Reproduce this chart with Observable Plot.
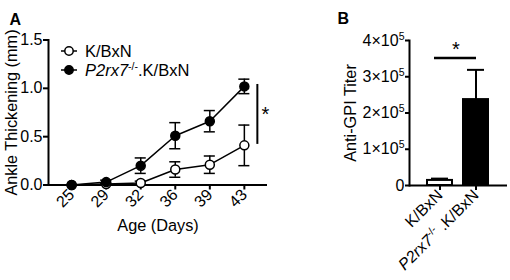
<!DOCTYPE html>
<html>
<head>
<meta charset="utf-8">
<script src="https://cdn.jsdelivr.net/npm/d3@7"></script>
<script src="https://cdn.jsdelivr.net/npm/@observablehq/plot@0.6"></script>
<style>
  html, body { margin: 0; padding: 0; background: white; }
  #wrap { position: relative; width: 510px; height: 280px; overflow: hidden; }
  #panelA { position: absolute; left: 0; top: 0; }
  #panelB { position: absolute; left: 290px; top: 0; }
</style>
</head>
<body>
<div id="wrap"><div id="panelA"></div><div id="panelB"></div></div>
<script>
// ---------- Data: panel A (ankle thickening) ----------
const days = [25, 29, 32, 36, 39, 43];
const kbxnMean = [0.00, 0.01, 0.02, 0.16, 0.21, 0.41];
const kbxnSem  = [0.00, 0.01, 0.02, 0.08, 0.09, 0.21];
const p2Mean   = [0.00, 0.03, 0.20, 0.51, 0.66, 1.02];
const p2Sem    = [0.00, 0.02, 0.08, 0.135, 0.11, 0.075];
const yTicksA  = [0, 0.5, 1.0, 1.5];
const seriesNames = ["K/BxN", "P2rx7-/-.K/BxN"];
const sigA = [{from: 0.42, to: 1.04, label: "*"}];

// ---------- Data: panel B (anti-GPI titer) ----------
const groupsB    = ["K/BxN", "P2rx7-/-.K/BxN"];
const titerMean  = [14000, 237000];
const titerSem   = [5000, 82000];
const yTicksB    = [0, 100000, 200000, 300000, 400000];
const sigB = [{y: 352000, label: "*"}];

const FONT = "'Liberation Sans', Arial, sans-serif";
const style = {fontFamily: FONT, fontSize: "16px", color: "black", background: "white", overflow: "visible"};

// ---------- Panel A ----------
const rowsK = days.map((d, i) => ({i, day: d, mean: kbxnMean[i], sem: kbxnSem[i]}));
const rowsP = days.map((d, i) => ({i, day: d, mean: p2Mean[i], sem: p2Sem[i]}));
const idx = days.map((d, i) => i);

function legendA() {
  const g = d3.create("svg:g").attr("text-anchor", "start");
  const rows = [{y: 51, fill: "white", name: seriesNames[0]}, {y: 70, fill: "black", name: seriesNames[1]}];
  for (const r of rows) {
    g.append("line").attr("x1", 61).attr("x2", 77).attr("y1", r.y).attr("y2", r.y)
      .attr("stroke", "black").attr("stroke-width", 1.5);
    g.append("circle").attr("cx", 69).attr("cy", r.y).attr("r", 4.2)
      .attr("fill", r.fill).attr("stroke", "black").attr("stroke-width", 1.5);
    const t = g.append("text").attr("x", 85).attr("y", r.y).attr("dy", "0.36em")
      .attr("font-size", 16.5).attr("fill", "black").attr("text-anchor", "start");
    if (r.name.startsWith("P2rx7")) {
      t.append("tspan").attr("font-style", "italic").text("P2rx7");
      t.append("tspan").attr("dy", -6).attr("font-size", 10.5).text("-/-");
      t.append("tspan").attr("dy", 6).text(".K/BxN");
    } else {
      t.text(r.name);
    }
  }
  return g.node();
}

const plotA = Plot.plot({
  width: 290, height: 280,
  marginLeft: 48, marginRight: 23, marginTop: 39.5, marginBottom: 95.5,
  style,
  x: {type: "linear", domain: [-0.67, 5.67]},
  y: {domain: [0, 1.5]},
  marks: [
    Plot.axisY({ticks: yTicksA, tickFormat: d3.format(".1f"), tickSize: 5, tickPadding: 1, strokeWidth: 2, label: null}),
    Plot.axisX({ticks: idx, tickFormat: i => String(days[i]), tickRotate: -45, tickSize: 5, tickPadding: 2, strokeWidth: 2, label: null}),
    Plot.ruleY([0], {strokeWidth: 2}),
    Plot.frame({anchor: "left", strokeWidth: 2}),
    Plot.text(["Ankle Thickening (mm)"], {frameAnchor: "left", textAnchor: "middle", rotate: -90, dx: -37, fontSize: 16.3}),
    Plot.text(["Age (Days)"], {frameAnchor: "bottom", dy: 46, fontSize: 16.3}),
    Plot.text(["A"], {frameAnchor: "top-left", dx: -39, dy: -26, fontSize: 16, fontWeight: "bold", textAnchor: "start"}),
    // lines
    Plot.line(rowsK, {x: "i", y: "mean", strokeWidth: 1.5}),
    Plot.line(rowsP, {x: "i", y: "mean", strokeWidth: 1.5}),
    // error bars
    Plot.ruleX(rowsK.filter(d => d.sem > 0), {x: "i", y1: d => d.mean - d.sem, y2: d => d.mean + d.sem, strokeWidth: 1.5}),
    Plot.ruleY(rowsK.filter(d => d.sem > 0), {y: d => d.mean + d.sem, x1: d => d.i - 0.16, x2: d => d.i + 0.16, strokeWidth: 1.5}),
    Plot.ruleY(rowsK.filter(d => d.sem > 0), {y: d => d.mean - d.sem, x1: d => d.i - 0.16, x2: d => d.i + 0.16, strokeWidth: 1.5}),
    Plot.ruleX(rowsP.filter(d => d.sem > 0), {x: "i", y1: d => d.mean - d.sem, y2: d => d.mean + d.sem, strokeWidth: 1.5}),
    Plot.ruleY(rowsP.filter(d => d.sem > 0), {y: d => d.mean + d.sem, x1: d => d.i - 0.16, x2: d => d.i + 0.16, strokeWidth: 1.5}),
    Plot.ruleY(rowsP.filter(d => d.sem > 0), {y: d => d.mean - d.sem, x1: d => d.i - 0.16, x2: d => d.i + 0.16, strokeWidth: 1.5}),
    // dots
    Plot.dot(rowsK, {x: "i", y: "mean", r: 4.5, fill: "white", stroke: "black", strokeWidth: 1.5}),
    Plot.dot(rowsP, {x: "i", y: "mean", r: 4.5, fill: "black", stroke: "black", strokeWidth: 1.5}),
    // significance
    Plot.ruleX(sigA, {x: 5, y1: "from", y2: "to", dx: 13, strokeWidth: 2}),
    Plot.text(sigA, {x: 5, y: d => (d.from + d.to) / 2, text: "label", dx: 21, dy: 0, fontSize: 20}),
    legendA
  ]
});
document.getElementById("panelA").append(plotA);

// ---------- Panel B ----------
const rowsB = groupsB.map((g, i) => ({group: g, mean: titerMean[i], sem: titerSem[i], fill: i === 0 ? "white" : "black"}));

const plotB = Plot.plot({
  width: 220, height: 280,
  marginLeft: 119, marginRight: 3, marginTop: 40, marginBottom: 95,
  style,
  x: {type: "band", domain: groupsB, paddingInner: 0.3, paddingOuter: 0.5},
  y: {domain: [0, 400000]},
  marks: [
    Plot.axisY({ticks: yTicksB, tickFormat: d => d === 0 ? "0" : `${d / 100000}×10^5`, tickSize: 4, tickPadding: 1, strokeWidth: 2, label: null}),
    Plot.axisX({tickRotate: -45, tickSize: 5, tickPadding: 2, strokeWidth: 2, label: null}),
    Plot.text(["Anti-GPI Titer"], {frameAnchor: "left", textAnchor: "middle", rotate: -90, dx: -59, fontSize: 16.3}),
    Plot.text(["B"], {frameAnchor: "top-left", dx: -72, dy: -28, fontSize: 16, fontWeight: "bold", textAnchor: "start"}),
    Plot.ruleX(rowsB, {x: "group", y1: "mean", y2: d => d.mean + d.sem, strokeWidth: 2}),
    Plot.tickY(rowsB, {x: "group", y: d => d.mean + d.sem, insetLeft: 4, insetRight: 4, strokeWidth: 2}),
    Plot.barY(rowsB, {x: "group", y: "mean", fill: d => d.fill, stroke: "black", strokeWidth: 2}),
    Plot.ruleY([0], {strokeWidth: 2}),
    Plot.frame({anchor: "left", strokeWidth: 2}),
    Plot.ruleY(sigB, {y: "y", x1: () => groupsB[0], x2: () => groupsB[1], insetLeft: 7, insetRight: 12, strokeWidth: 2.5}),
    Plot.text(sigB, {y: "y", text: "label", frameAnchor: "left", textAnchor: "middle", dx: 46.5, dy: -8, fontSize: 20})
  ]
});
document.getElementById("panelB").append(plotB);

// ---------- rich text for tick labels (superscripts / italics) ----------
d3.select(plotB).selectAll("text").each(function () {
  const el = d3.select(this);
  const s = this.textContent;
  if (/×10\^5$/.test(s)) {
    el.text("");
    el.append("tspan").text(s.replace("^5", ""));
    el.append("tspan").attr("dy", -6).attr("font-size", 10.5).text("5");
  } else if (s === "P2rx7-/-.K/BxN") {
    el.text("");
    el.append("tspan").attr("font-style", "italic").text("P2rx7");
    el.append("tspan").attr("dy", -6).attr("font-size", 10.5).text("-/-");
    el.append("tspan").attr("dy", 6).text(" .K/BxN");
  }
});
</script>
</body>
</html>
